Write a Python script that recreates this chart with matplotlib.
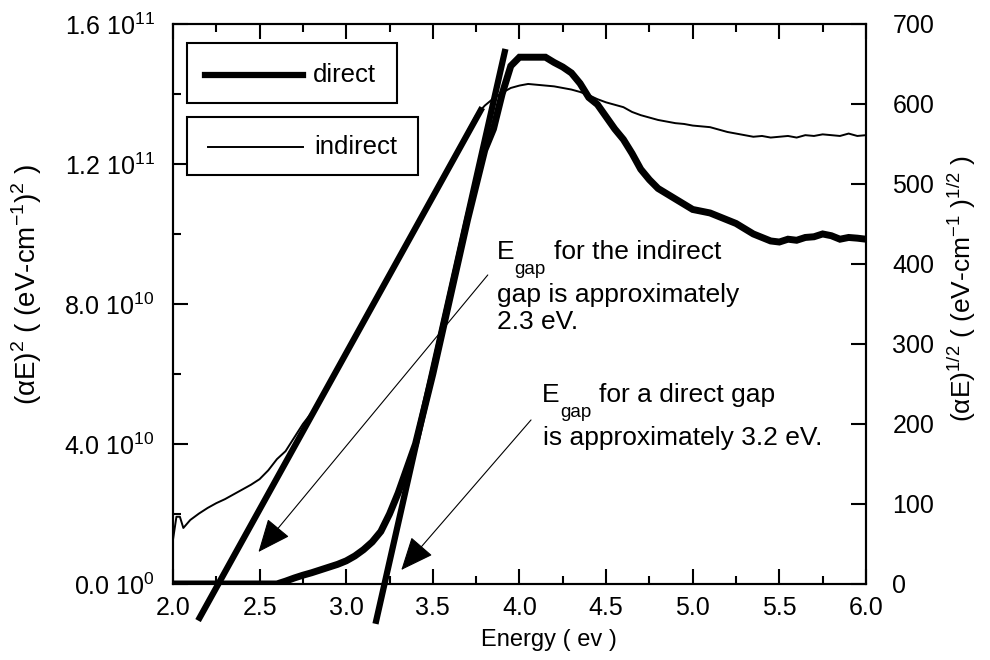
import numpy as np
import matplotlib
matplotlib.use('Agg')
import matplotlib.pyplot as plt
from matplotlib.patches import Rectangle
from matplotlib.ticker import MultipleLocator, FixedLocator

plt.rcParams['font.family'] = ['Liberation Sans', 'DejaVu Sans']

# indirect: (aE)^1/2, right axis
e_indirect = [2.0, 2.02, 2.04, 2.06,
              2.1, 2.15, 2.2, 2.25, 2.3, 2.35, 2.4, 2.45, 2.5, 2.55, 2.6, 2.65, 2.7, 2.75, 2.8,
              2.9, 3.0, 3.1, 3.2, 3.3, 3.4, 3.5, 3.6, 3.7,
              3.75, 3.8, 3.85, 3.9, 3.95, 4.0, 4.05, 4.1, 4.15, 4.2, 4.25, 4.3, 4.35, 4.4, 4.45,
              4.5, 4.55, 4.6, 4.65, 4.7, 4.75, 4.8, 4.85, 4.9, 4.95, 5.0, 5.05, 5.1, 5.15, 5.2,
              5.25, 5.3, 5.35, 5.4, 5.45, 5.5, 5.55, 5.6, 5.65, 5.7, 5.75, 5.8, 5.85, 5.9, 5.95, 6.0]
indirect = [55, 84, 84, 70,
            80, 88, 95, 101, 106, 112, 118, 124, 131, 142, 156, 166, 183, 200, 214,
            251, 290, 330, 368, 407, 446, 485, 524, 566,
            586, 598, 607, 614, 620, 623, 625, 624, 623, 622, 620, 618, 615, 611, 606,
            602, 599, 596, 590, 586, 583, 580, 578, 576, 575, 573, 572, 571, 568, 565,
            563, 561, 559, 560, 558, 559, 560, 558, 561, 560, 562, 561, 560, 563, 560, 561]

# direct: (aE)^2, left axis, in 1e10
e_direct = [2.0, 2.6, 2.65, 2.7, 2.75, 2.8, 2.85, 2.9, 2.95, 3.0, 3.05, 3.1, 3.15, 3.2,
            3.25, 3.3, 3.35, 3.4, 3.45, 3.5, 3.55, 3.6, 3.65, 3.7, 3.75, 3.8, 3.85, 3.9,
            3.95, 4.0, 4.05, 4.1, 4.15, 4.2, 4.25, 4.3, 4.35, 4.4, 4.45, 4.5, 4.55, 4.6,
            4.65, 4.7, 4.75, 4.8, 4.85, 4.9, 4.95, 5.0, 5.05, 5.1, 5.15, 5.2, 5.25, 5.3,
            5.35, 5.4, 5.45, 5.5, 5.55, 5.6, 5.65, 5.7, 5.75, 5.8, 5.85, 5.9, 5.95, 6.0]
direct = [0.0, 0.0, 0.08, 0.17, 0.25, 0.32, 0.4, 0.48, 0.56, 0.66, 0.8, 0.98, 1.2, 1.5,
          2.0, 2.6, 3.3, 4.0, 5.0, 6.0, 7.1, 8.2, 9.3, 10.4, 11.4, 12.4, 13.0, 14.0,
          14.8, 15.05, 15.05, 15.05, 15.05, 14.9, 14.77, 14.6, 14.3, 13.9, 13.7, 13.35, 13.0, 12.7,
          12.3, 11.85, 11.55, 11.3, 11.15, 11.0, 10.85, 10.7, 10.65, 10.6, 10.5, 10.4, 10.3, 10.15,
          10.0, 9.9, 9.8, 9.77, 9.85, 9.82, 9.9, 9.92, 10.0, 9.95, 9.85, 9.9, 9.88, 9.85]

# linear fits: gap energy, slope, energy range of drawn line
indirect_gap, indirect_slope, indirect_range = 2.262, 391.0, (2.145, 3.785)
direct_gap, direct_slope, direct_range = 3.221, 21.9e10, (3.169, 3.919)

left_ticks = [0, 4e10, 8e10, 1.2e11, 1.6e11]
left_labels = ['0.0 10$^{\\mathregular{0}}$', '4.0 10$^{\\mathregular{10}}$',
               '8.0 10$^{\\mathregular{10}}$', '1.2 10$^{\\mathregular{11}}$',
               '1.6 10$^{\\mathregular{11}}$']
right_ticks = [0, 100, 200, 300, 400, 500, 600, 700]
x_ticks = [2.0, 2.5, 3.0, 3.5, 4.0, 4.5, 5.0, 5.5, 6.0]

fig = plt.figure(figsize=(9.9, 6.6), dpi=100)
ax = fig.add_axes([0.1747, 0.1152, 0.7, 0.8485])
ax2 = ax.twinx()

ax.plot(e_direct, np.array(direct) * 1e10, color='black', lw=5, solid_joinstyle='miter', zorder=3)
ax2.plot(e_indirect, indirect, color='black', lw=1.4, zorder=3)

xf = np.array(direct_range)
ax.plot(xf, direct_slope * (xf - direct_gap), color='black', lw=4.5,
        solid_capstyle='butt', clip_on=False, zorder=4)
xf = np.array(indirect_range)
ax2.plot(xf, indirect_slope * (xf - indirect_gap), color='black', lw=4.5,
         solid_capstyle='butt', clip_on=False, zorder=4)

ax.set_xlim(2.0, 6.0)
ax.set_ylim(0, 1.6e11)
ax2.set_ylim(0, 700)

ax.xaxis.set_major_locator(FixedLocator(x_ticks))
ax.set_xticklabels(['%.1f' % v for v in x_ticks])
ax.xaxis.set_minor_locator(MultipleLocator(0.25))
ax.yaxis.set_major_locator(FixedLocator(left_ticks))
ax.set_yticklabels(left_labels)
ax.yaxis.set_minor_locator(MultipleLocator(2e10))
ax2.yaxis.set_major_locator(FixedLocator(right_ticks))
ax2.set_yticklabels([str(v) for v in right_ticks])

ax.tick_params(which='both', direction='in', width=1.5, top=True, right=False, labelsize=18)
ax.tick_params(which='major', length=11)
ax.tick_params(which='minor', length=6)
ax.tick_params(axis='x', pad=9)
ax.tick_params(axis='y', pad=13)
ax2.tick_params(direction='in', width=1.5, length=11, labelsize=18, pad=19)

for a in (ax, ax2):
    for s in a.spines.values():
        s.set_linewidth(1.5)

ax.set_xlabel('Energy ( ev )', fontsize=17)
ax.xaxis.set_label_coords(0.543, -0.080)
ax.set_ylabel('(αE)$^{\\mathregular{2}}$ ( (eV-cm$^{\\mathregular{-1}}$)$^{\\mathregular{2}}$ )', fontsize=20)
ax.yaxis.set_label_coords(-0.186, 0.534)
ax2.set_ylabel('(αE)$^{\\mathregular{1/2}}$ ( (eV-cm$^{\\mathregular{-1}}$ )$^{\\mathregular{1/2}}$ )', fontsize=19)
ax2.yaxis.set_label_coords(1.115, 0.527)

# legend boxes
ax2.add_patch(Rectangle((0.020, 0.859), 0.304, 0.107, transform=ax2.transAxes,
                        facecolor='white', edgecolor='black', lw=1.5, zorder=5))
ax2.add_patch(Rectangle((0.020, 0.730), 0.334, 0.104, transform=ax2.transAxes,
                        facecolor='white', edgecolor='black', lw=1.5, zorder=5))
ax2.plot([0.0464, 0.1872], [0.9089, 0.9089], transform=ax2.transAxes, color='black', lw=4.5, zorder=6)
ax2.plot([0.0508, 0.1872], [0.7800, 0.7800], transform=ax2.transAxes, color='black', lw=1.4, zorder=6)
ax2.text(0.2017, 0.9089, 'direct', transform=ax2.transAxes, fontsize=18.5, va='center', zorder=6)
ax2.text(0.2032, 0.7800, 'indirect', transform=ax2.transAxes, fontsize=18.5, va='center', zorder=6)

# annotations
t = ax.transAxes
ax.text(0.4673, 0.5804, 'E', transform=t, fontsize=19, va='baseline')
ax.text(0.4920, 0.5536, 'gap', transform=t, fontsize=13.5, va='baseline')
ax.text(0.5500, 0.5804, 'for the indirect', transform=t, fontsize=19, va='baseline')
ax.text(0.4673, 0.5036, 'gap is approximately', transform=t, fontsize=19, va='baseline')
ax.text(0.4673, 0.4548, '2.3 eV.', transform=t, fontsize=19, va='baseline')

ax.text(0.5327, 0.3256, 'E', transform=t, fontsize=19, va='baseline')
ax.text(0.5588, 0.2988, 'gap', transform=t, fontsize=13.5, va='baseline')
ax.text(0.6149, 0.3256, 'for a direct gap', transform=t, fontsize=19, va='baseline')
ax.text(0.5336, 0.2482, 'is approximately 3.2 eV.', transform=t, fontsize=19, va='baseline')

arrow = dict(arrowstyle='-|>,head_length=2.1,head_width=0.9', mutation_scale=10,
             color='black', lw=0.8, shrinkA=0, shrinkB=0)
ax.annotate('', xy=(0.1234, 0.0571), xytext=(0.4543, 0.5518),
            xycoords='axes fraction', textcoords='axes fraction', arrowprops=arrow)
ax.annotate('', xy=(0.3295, 0.025), xytext=(0.5167, 0.2929),
            xycoords='axes fraction', textcoords='axes fraction', arrowprops=arrow)

plt.savefig('out.png', dpi=100)
